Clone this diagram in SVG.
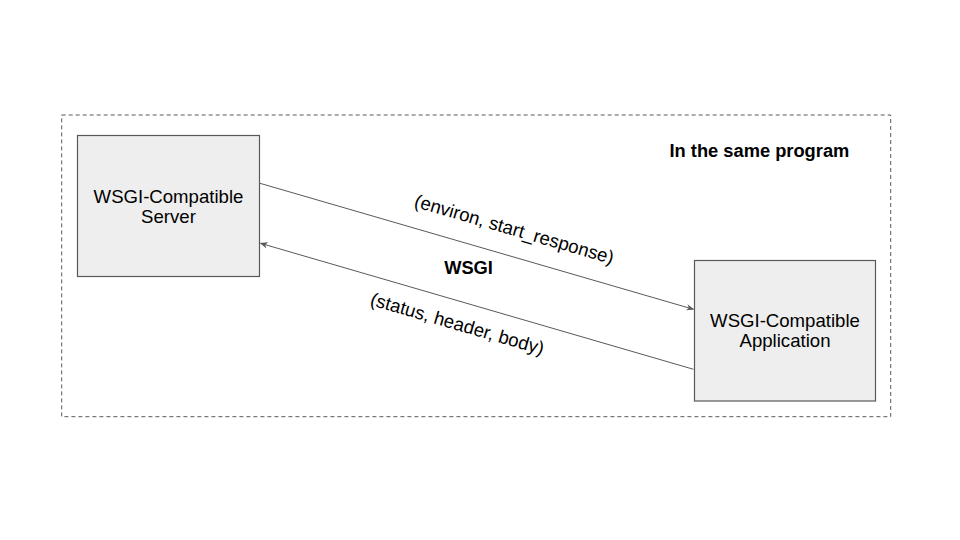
<svg xmlns="http://www.w3.org/2000/svg" width="960" height="540" viewBox="0 0 960 540">
<defs>
<style>
.box{fill:#eeeeee;stroke:#595959;stroke-width:1.2}
.lbl{font-family:"Liberation Sans",Arial,sans-serif;font-size:18.6px;fill:#000}
.b{font-weight:bold;font-size:18.3px}
.conn{stroke:#595959;stroke-width:1;fill:none;marker-end:url(#ah)}
</style>
<marker id="ah" viewBox="0 0 10 10" refX="9" refY="5" markerWidth="8" markerHeight="8" markerUnits="userSpaceOnUse" orient="auto">
<path d="M0,1 L10,5 L0,9 L3,5 Z" fill="#595959"/>
</marker>
</defs>
<rect width="960" height="540" fill="#ffffff"/>
<g id="frame">
<rect x="61.7" y="115" width="829" height="301.7" fill="none" stroke="#595959" stroke-width="1" stroke-dasharray="4,3"/>
<text class="lbl b" x="669.5" y="157">In the same program</text>
</g>
<g id="server">
<rect class="box" x="77.5" y="135.5" width="182" height="141"/>
<text class="lbl" text-anchor="middle" x="168.5" y="202.5">WSGI-Compatible</text>
<text class="lbl" text-anchor="middle" x="168.5" y="222.5">Server</text>
</g>
<g id="application">
<rect class="box" x="694.5" y="260.5" width="181" height="140.5"/>
<text class="lbl" text-anchor="middle" x="785" y="327">WSGI-Compatible</text>
<text class="lbl" text-anchor="middle" x="785" y="347">Application</text>
</g>
<g id="connectors">
<line class="conn" x1="260" y1="183.3" x2="693.5" y2="309.3"/>
<line class="conn" x1="693.5" y1="369.3" x2="260.5" y2="243.3"/>
<text class="lbl" text-anchor="middle" transform="translate(512.5,235.4) rotate(16.2)">(environ, start_response)</text>
<text class="lbl" text-anchor="middle" transform="translate(455.5,329.8) rotate(16.2)">(status, header, body)</text>
<text class="lbl b" text-anchor="middle" x="468.5" y="274">WSGI</text>
</g>
</svg>
